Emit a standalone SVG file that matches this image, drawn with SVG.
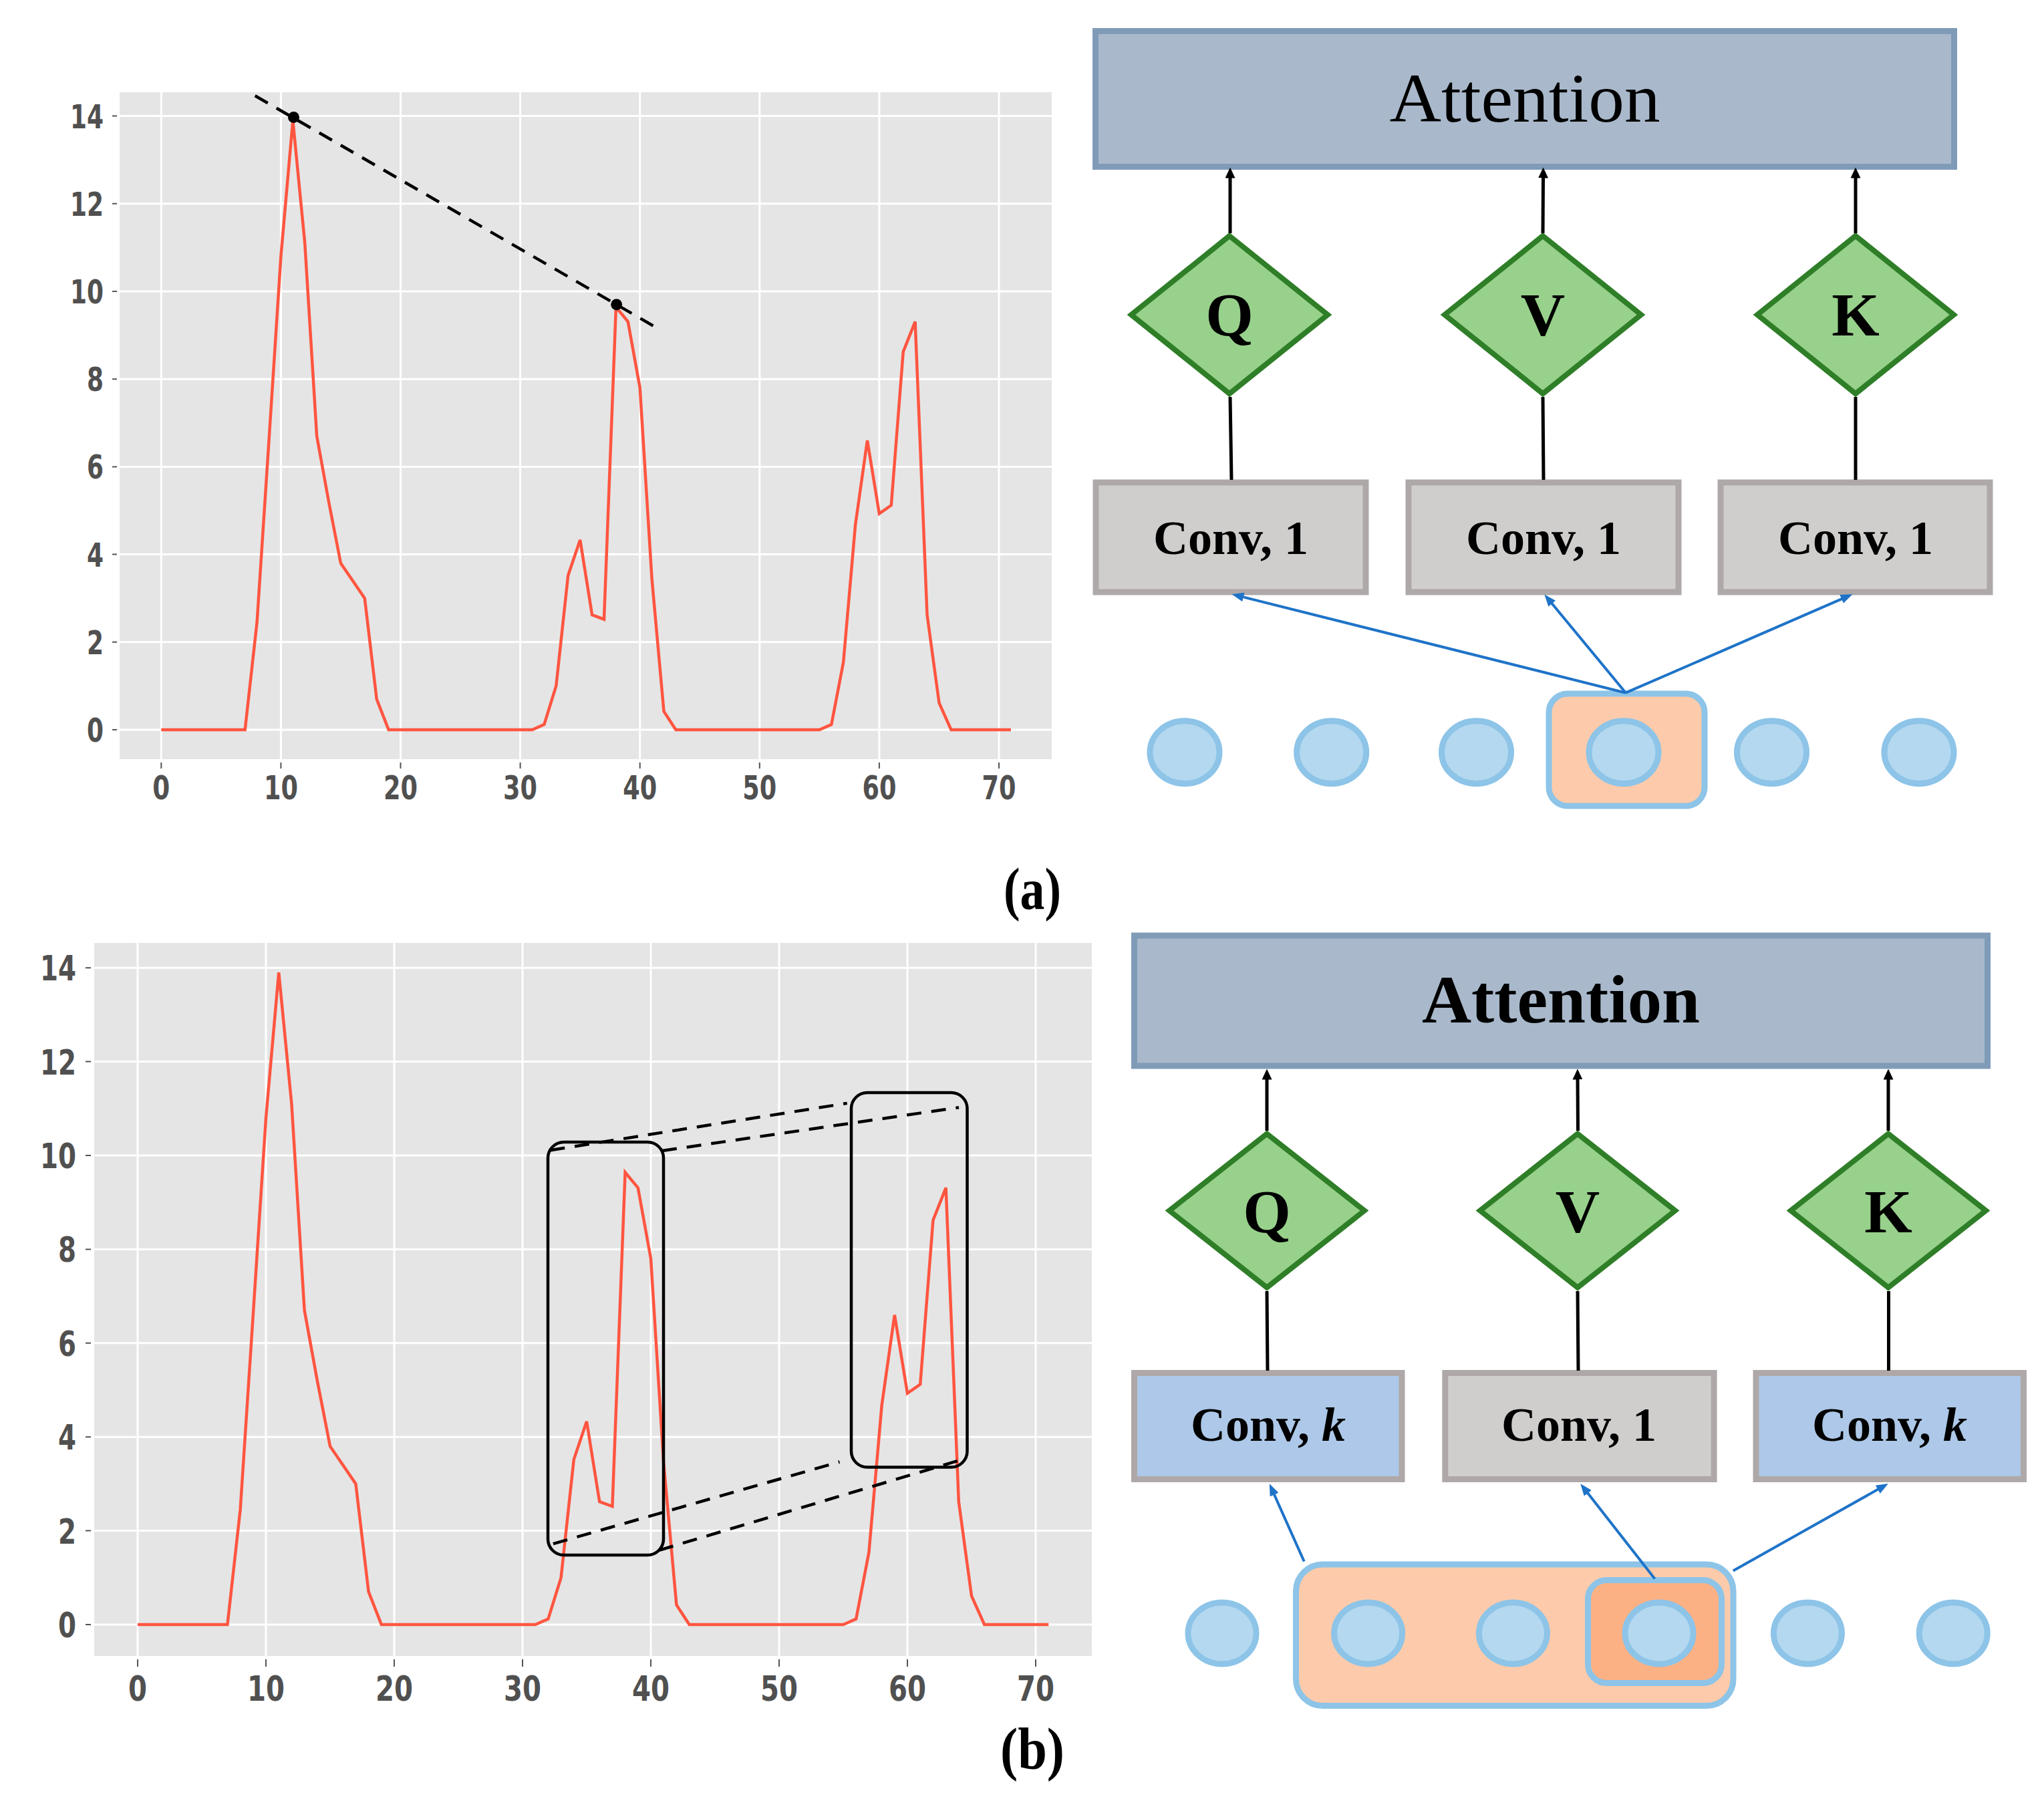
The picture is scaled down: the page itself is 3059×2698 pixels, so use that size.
<svg xmlns="http://www.w3.org/2000/svg" width="3059" height="2698" viewBox="0 0 3059 2698">
<style>
.bg{fill:#E5E5E5}
.grid{stroke:#FFFFFF;stroke-width:3;fill:none}
.tick{stroke:#555555;stroke-width:2}
.series{fill:none;stroke:#FF5540;stroke-width:4.5;stroke-linejoin:miter}
.dash{fill:none;stroke:#000;stroke-width:4.5;stroke-dasharray:22 15}
.tl1{font-family:"DejaVu Sans","Liberation Sans",sans-serif;font-weight:bold;font-size:50px;fill:#505050}
.tl2{font-family:"DejaVu Sans","Liberation Sans",sans-serif;font-weight:bold;font-size:52px;fill:#505050}
.att{fill:#A9B9CB;stroke:#7F9BB8;stroke-width:9}
.dia{fill:#98D18B;stroke:#2F7E28;stroke-width:8;stroke-linejoin:miter}
.convg{fill:#D0CECD;stroke:#AEA9A8;stroke-width:9}
.convb{fill:#ADC8E8;stroke:#AEA9A8;stroke-width:9}
.cir{fill:#B4D8EF;stroke:#8DC4E8;stroke-width:9}
.hl{fill:#FDCBAB;stroke:#8DC4E8;stroke-width:9}
.hl2{fill:#FCB184;stroke:#8DC4E8;stroke-width:9}
.serif{font-family:"Liberation Serif","DejaVu Serif",serif;fill:#000}
.lbl{font-family:"Liberation Serif","DejaVu Serif",serif;font-weight:bold;font-size:72px;text-anchor:middle;fill:#000}
.let{font-family:"Liberation Serif","DejaVu Serif",serif;font-weight:bold;font-size:92px;text-anchor:middle;fill:#000}
.blk{stroke:#000;stroke-width:5;fill:none}
.blu{stroke:#1E73C8;stroke-width:4;fill:none}
.box{fill:none;stroke:#000;stroke-width:4.5}
</style>
<defs>
<marker id="ak" viewBox="0 0 16 15" markerWidth="16" markerHeight="15" refX="0.5" refY="7.5" orient="auto" markerUnits="userSpaceOnUse"><path d="M0,0 L16,7.5 L0,15 z" fill="#000"/></marker>
<marker id="ab" viewBox="0 0 18 14" markerWidth="18" markerHeight="14" refX="0.5" refY="7" orient="auto" markerUnits="userSpaceOnUse"><path d="M0,0 L18,7 L0,14 z" fill="#1E73C8"/></marker>
</defs>
<rect width="3059" height="2698" fill="#FFFFFF"/>

<!-- ===== Top chart ===== -->
<g id="chart-a">
<rect class="bg" x="179" y="138" width="1395" height="998"/>
<g class="grid">
<path d="M179,1092H1574M179,960.8H1574M179,829.6H1574M179,698.4H1574M179,567.2H1574M179,436H1574M179,304.8H1574M179,173.6H1574"/>
<path d="M241.3,138V1136M420.4,138V1136M599.5,138V1136M778.6,138V1136M957.7,138V1136M1136.8,138V1136M1315.9,138V1136M1495,138V1136"/>
</g>
<g class="tick">
<path d="M168,1092H175M168,960.8H175M168,829.6H175M168,698.4H175M168,567.2H175M168,436H175M168,304.8H175M168,173.6H175"/>
<path d="M241.3,1141V1150M420.4,1141V1150M599.5,1141V1150M778.6,1141V1150M957.7,1141V1150M1136.8,1141V1150M1315.9,1141V1150M1495,1141V1150"/>
</g>
<g class="tl1" text-anchor="middle">
<text x="142.5" y="1110" textLength="25" lengthAdjust="spacingAndGlyphs">0</text>
<text x="142.5" y="978.8" textLength="25" lengthAdjust="spacingAndGlyphs">2</text>
<text x="142.5" y="847.6" textLength="25" lengthAdjust="spacingAndGlyphs">4</text>
<text x="142.5" y="716.4" textLength="25" lengthAdjust="spacingAndGlyphs">6</text>
<text x="142.5" y="585.2" textLength="25" lengthAdjust="spacingAndGlyphs">8</text>
<text x="130" y="454" textLength="50" lengthAdjust="spacingAndGlyphs">10</text>
<text x="130" y="322.8" textLength="50" lengthAdjust="spacingAndGlyphs">12</text>
<text x="130" y="191.6" textLength="50" lengthAdjust="spacingAndGlyphs">14</text>
<text x="241.3" y="1196" textLength="26" lengthAdjust="spacingAndGlyphs">0</text>
<text x="420.4" y="1196" textLength="51" lengthAdjust="spacingAndGlyphs">10</text>
<text x="599.5" y="1196" textLength="51" lengthAdjust="spacingAndGlyphs">20</text>
<text x="778.6" y="1196" textLength="51" lengthAdjust="spacingAndGlyphs">30</text>
<text x="957.7" y="1196" textLength="51" lengthAdjust="spacingAndGlyphs">40</text>
<text x="1136.8" y="1196" textLength="51" lengthAdjust="spacingAndGlyphs">50</text>
<text x="1315.9" y="1196" textLength="51" lengthAdjust="spacingAndGlyphs">60</text>
<text x="1495" y="1196" textLength="51" lengthAdjust="spacingAndGlyphs">70</text>
</g>
<polyline class="series" points="241.3,1092 366.7,1092 384.6,931.3 402.5,659 420.4,383.5 438.3,180.2 456.2,363.8 474.1,652.5 492,750.9 509.9,842.7 527.9,869 545.8,895.2 563.7,1046.1 581.6,1092 796.5,1092 814.4,1084.1 832.3,1026.4 850.2,861.1 868.2,807.9 886.1,920.1 904,926.7 921.9,459.6 939.8,481.3 957.7,580.3 975.6,866.3 993.5,1064.4 1011.4,1092 1226.4,1092 1244.3,1084.1 1262.2,991 1280.1,785.6 1298,659 1315.9,768.6 1333.8,756.1 1351.7,526.5 1369.6,481.3 1387.5,920.1 1405.5,1052 1423.4,1092 1512.9,1092"/>
<line class="dash" x1="381.7" y1="143.2" x2="982.7" y2="490.5"/>
<circle cx="439.5" cy="175.5" r="8.5" fill="#000"/>
<circle cx="922.7" cy="455.7" r="8.5" fill="#000"/>
</g>

<!-- ===== Bottom chart ===== -->
<g id="chart-b">
<rect class="bg" x="141" y="1411" width="1493" height="1067"/>
<g class="grid">
<path d="M141,2431H1634M141,2290.6H1634M141,2150.2H1634M141,2009.8H1634M141,1869.4H1634M141,1729H1634M141,1588.6H1634M141,1448.2H1634"/>
<path d="M206,1411V2478M398,1411V2478M590,1411V2478M782,1411V2478M974,1411V2478M1166,1411V2478M1358,1411V2478M1550,1411V2478"/>
</g>
<g class="tick">
<path d="M128,2431H136M128,2290.6H136M128,2150.2H136M128,2009.8H136M128,1869.4H136M128,1729H136M128,1588.6H136M128,1448.2H136"/>
<path d="M206,2483V2494M398,2483V2494M590,2483V2494M782,2483V2494M974,2483V2494M1166,2483V2494M1358,2483V2494M1550,2483V2494"/>
</g>
<g class="tl2" text-anchor="middle">
<text x="100.5" y="2450" textLength="27" lengthAdjust="spacingAndGlyphs">0</text>
<text x="100.5" y="2309.6" textLength="27" lengthAdjust="spacingAndGlyphs">2</text>
<text x="100.5" y="2169.2" textLength="27" lengthAdjust="spacingAndGlyphs">4</text>
<text x="100.5" y="2028.8" textLength="27" lengthAdjust="spacingAndGlyphs">6</text>
<text x="100.5" y="1888.4" textLength="27" lengthAdjust="spacingAndGlyphs">8</text>
<text x="87" y="1748" textLength="54" lengthAdjust="spacingAndGlyphs">10</text>
<text x="87" y="1607.6" textLength="54" lengthAdjust="spacingAndGlyphs">12</text>
<text x="87" y="1467.2" textLength="54" lengthAdjust="spacingAndGlyphs">14</text>
<text x="206" y="2545" textLength="28" lengthAdjust="spacingAndGlyphs">0</text>
<text x="398" y="2545" textLength="56" lengthAdjust="spacingAndGlyphs">10</text>
<text x="590" y="2545" textLength="56" lengthAdjust="spacingAndGlyphs">20</text>
<text x="782" y="2545" textLength="56" lengthAdjust="spacingAndGlyphs">30</text>
<text x="974" y="2545" textLength="56" lengthAdjust="spacingAndGlyphs">40</text>
<text x="1166" y="2545" textLength="56" lengthAdjust="spacingAndGlyphs">50</text>
<text x="1358" y="2545" textLength="56" lengthAdjust="spacingAndGlyphs">60</text>
<text x="1550" y="2545" textLength="56" lengthAdjust="spacingAndGlyphs">70</text>
</g>
<polyline class="series" points="206,2431 340.4,2431 359.6,2259 378.8,1967.7 398,1672.8 417.2,1455.2 436.4,1651.8 455.6,1960.7 474.8,2066 494,2164.2 513.2,2192.3 532.4,2220.4 551.6,2381.9 570.8,2431 801.2,2431 820.4,2422.6 839.6,2360.8 858.8,2183.9 878,2127 897.2,2247.1 916.4,2254.1 935.6,1754.3 954.8,1777.4 974,1883.4 993.2,2189.5 1012.4,2401.5 1031.6,2431 1262,2431 1281.2,2422.6 1300.4,2322.9 1319.6,2103.2 1338.8,1967.7 1358,2084.9 1377.2,2071.6 1396.4,1825.9 1415.6,1777.4 1434.8,2247.1 1454,2388.2 1473.2,2431 1569.2,2431"/>
<rect class="box" x="820" y="1709" width="173" height="618" rx="24"/>
<rect class="box" x="1274" y="1635" width="173.5" height="560.5" rx="24"/>
<line class="dash" x1="823.5" y1="1721.2" x2="1267.7" y2="1650.9"/>
<line class="dash" x1="991" y1="1722" x2="1435" y2="1657.2"/>
<line class="dash" x1="827.9" y1="2310.1" x2="1256.5" y2="2187.5"/>
<line class="dash" x1="986.4" y1="2319.8" x2="1439.6" y2="2184.1"/>
</g>

<!-- ===== Panel (a) diagram ===== -->
<g id="a-attention"><rect class="att" x="1639.5" y="46.5" width="1285" height="203"/>
<text class="serif" x="2282" y="182" font-size="104" text-anchor="middle" textLength="405" lengthAdjust="spacingAndGlyphs">Attention</text></g>
<g id="a-q"><polygon class="dia" points="1840,353 1987,471 1840,589 1693,471"/><text class="let" x="1840" y="502">Q</text></g>
<g id="a-v"><polygon class="dia" points="2309,353 2456,471 2309,589 2162,471"/><text class="let" x="2309" y="502">V</text></g>
<g id="a-k"><polygon class="dia" points="2777,353 2924,471 2777,589 2630,471"/><text class="let" x="2777" y="502">K</text></g>
<g id="a-conv-q"><rect class="convg" x="1640" y="722" width="404" height="164"/><text class="lbl" x="1842" y="829">Conv, 1</text></g>
<g id="a-conv-v"><rect class="convg" x="2108" y="722" width="404" height="164"/><text class="lbl" x="2310" y="829">Conv, 1</text></g>
<g id="a-conv-k"><rect class="convg" x="2575" y="722" width="403" height="164"/><text class="lbl" x="2777" y="829">Conv, 1</text></g>
<g id="a-highlight"><rect class="hl" x="2318" y="1038" width="233" height="168" rx="28"/></g>
<g id="a-inputs">
<ellipse class="cir" cx="1773" cy="1125.7" rx="52" ry="47"/>
<ellipse class="cir" cx="1992.7" cy="1125.7" rx="52" ry="47"/>
<ellipse class="cir" cx="2209.5" cy="1125.7" rx="52" ry="47"/>
<ellipse class="cir" cx="2430" cy="1125.7" rx="52" ry="47"/>
<ellipse class="cir" cx="2651.5" cy="1125.7" rx="52" ry="47"/>
<ellipse class="cir" cx="2872" cy="1125.7" rx="52" ry="47"/>
</g>

<!-- ===== Panel (b) diagram ===== -->
<g id="b-attention"><rect class="att" x="1697.5" y="1400" width="1277" height="195"/>
<text class="serif" x="2336" y="1530" font-size="102" font-weight="bold" text-anchor="middle" textLength="416" lengthAdjust="spacingAndGlyphs">Attention</text></g>
<g id="b-q"><polygon class="dia" points="1896,1696.6 2042,1811.6 1896,1926.6 1750,1811.6"/><text class="let" x="1896" y="1844">Q</text></g>
<g id="b-v"><polygon class="dia" points="2361,1696.6 2507,1811.6 2361,1926.6 2215,1811.6"/><text class="let" x="2361" y="1844">V</text></g>
<g id="b-k"><polygon class="dia" points="2826,1696.6 2972,1811.6 2826,1926.6 2680,1811.6"/><text class="let" x="2826" y="1844">K</text></g>
<g id="b-conv-q"><rect class="convb" x="1697.5" y="2054.5" width="400.5" height="159"/><text class="lbl" x="1898" y="2156">Conv, <tspan font-style="italic">k</tspan></text></g>
<g id="b-conv-v"><rect class="convg" x="2162.8" y="2054.5" width="402.3" height="159"/><text class="lbl" x="2363" y="2156">Conv, 1</text></g>
<g id="b-conv-k"><rect class="convb" x="2628" y="2054.5" width="400.5" height="159"/><text class="lbl" x="2828" y="2156">Conv, <tspan font-style="italic">k</tspan></text></g>
<g id="b-window"><rect class="hl" x="1939.5" y="2341" width="654.5" height="211.5" rx="40"/></g>
<g id="b-center"><rect class="hl2" x="2376.5" y="2364.5" width="200" height="154" rx="28"/></g>
<g id="b-inputs">
<ellipse class="cir" cx="1829" cy="2444" rx="51" ry="46"/>
<ellipse class="cir" cx="2047.6" cy="2444" rx="51" ry="46"/>
<ellipse class="cir" cx="2264.4" cy="2444" rx="51" ry="46"/>
<ellipse class="cir" cx="2483" cy="2444" rx="51" ry="46"/>
<ellipse class="cir" cx="2705.4" cy="2444" rx="51" ry="46"/>
<ellipse class="cir" cx="2923.2" cy="2444" rx="51" ry="46"/>
</g>

<!-- ===== Connectors ===== -->
<g id="connectors">
<line class="blk" x1="1841" y1="349" x2="1841" y2="266" marker-end="url(#ak)"/>
<line class="blk" x1="2309" y1="349" x2="2309.5" y2="266" marker-end="url(#ak)"/>
<line class="blk" x1="2777" y1="349" x2="2777" y2="266" marker-end="url(#ak)"/>
<line class="blk" stroke-width="4" x1="1841" y1="594" x2="1843" y2="718"/>
<line class="blk" stroke-width="4" x1="2309" y1="594" x2="2310" y2="718"/>
<line class="blk" stroke-width="4" x1="2777" y1="594" x2="2777" y2="718"/>
<line class="blu" x1="2433" y1="1036.7" x2="1860.5" y2="893.4" marker-end="url(#ab)"/>
<line class="blu" x1="2433" y1="1036.7" x2="2322.5" y2="902.9" marker-end="url(#ab)"/>
<line class="blu" x1="2433" y1="1036.7" x2="2756.5" y2="896.2" marker-end="url(#ab)"/>
<line class="blk" x1="1896" y1="1692" x2="1896" y2="1615" marker-end="url(#ak)"/>
<line class="blk" x1="2361.5" y1="1692" x2="2361" y2="1615" marker-end="url(#ak)"/>
<line class="blk" x1="2826" y1="1692" x2="2826" y2="1615" marker-end="url(#ak)"/>
<line class="blk" stroke-width="4" x1="1896" y1="1932" x2="1897" y2="2051"/>
<line class="blk" stroke-width="4" x1="2361" y1="1932" x2="2362" y2="2051"/>
<line class="blk" stroke-width="4" x1="2826.5" y1="1932" x2="2826.5" y2="2051"/>
<line class="blu" x1="1951.7" y1="2336.5" x2="1906.9" y2="2236.2" marker-end="url(#ab)"/>
<line class="blu" x1="2476.5" y1="2362.6" x2="2376" y2="2234" marker-end="url(#ab)"/>
<line class="blu" x1="2593.8" y1="2350.4" x2="2810.7" y2="2228.6" marker-end="url(#ab)"/>
</g>

<text id="label-a" class="serif" x="1545" y="1360" font-size="88" font-weight="bold" text-anchor="middle" textLength="86" lengthAdjust="spacingAndGlyphs">(a)</text>
<text id="label-b" class="serif" x="1545" y="2647" font-size="88" font-weight="bold" text-anchor="middle" textLength="96" lengthAdjust="spacingAndGlyphs">(b)</text>
</svg>
